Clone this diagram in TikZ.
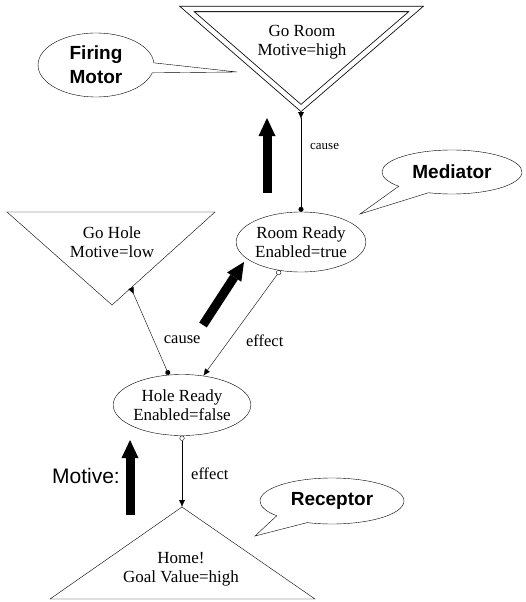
\documentclass[tikz,border=0pt]{standalone}
\usepackage{fontspec}
\setmainfont{Liberation Serif}
\setsansfont{Liberation Sans}
\usetikzlibrary{shapes.geometric,shapes.callouts,arrows.meta,positioning}

\tikzset{
  state/.style={draw, ellipse, inner sep=0pt, align=center, font=\fontsize{17}{19}\selectfont},
  bubble/.style={draw, ellipse callout, inner sep=0pt, align=center, callout pointer arc=30,
    font=\fontsize{19}{24}\selectfont\sffamily\bfseries},
  tri/.style={draw, line join=miter},
  tritext/.style={align=center, inner sep=0pt, font=\fontsize{17}{19}\selectfont},
  lbl/.style={inner sep=1pt, font=\fontsize{16.5}{19}\selectfont},
  causelink/.style={{Circle[length=5pt]}-{Latex[length=7pt,width=6pt,reversed]}},
  effectlink/.style={{Circle[open,length=5pt]}-{Latex[length=7pt,width=6pt]}},
  push/.style={line width=9pt, -{Triangle[length=18pt,width=17pt,line width=0pt]}},
}

\begin{document}
\begin{tikzpicture}[x=1pt, y=-1pt]
  \useasboundingbox (0,0) rectangle (525,602);

  % motors and goal
  \draw[tri, double, double distance=4.5pt, line width=0.8pt] (187,9) -- (416,9) -- (301,108) -- cycle;
  \coordinate (goroomtip) at (301,112);
  \node[tritext] (goroom) at (302,42) {Go Room\\Motive=high};

  \draw[tri] (7,212) -- (215,212) -- (112,305) -- cycle;
  \coordinate (goholein) at (131,288);
  \node[tritext] (gohole) at (112,242) {Go Hole\\Motive=low};

  \draw[tri] (50,599) -- (315,599) -- (182,507) -- cycle;
  \coordinate (hometip) at (182,507);
  \node[tritext] (home) at (181,569) {Home!\\Goal Value=high};

  % conditions
  \node[state, minimum width=125pt, minimum height=60pt] (rr) at (301,242) {Room Ready\\Enabled=true};
  \node[state, minimum width=132pt, minimum height=61pt] (hr) at (182,405) {Hole Ready\\Enabled=false};

  \draw[causelink] (rr.north) -- node[lbl, pos=0.65, right=8pt, font=\fontsize{13}{15}\selectfont] {cause} (goroomtip);
  \draw[causelink] (hr) -- node[lbl, pos=0.4, right=9pt] {cause} (goholein);
  \draw[effectlink] (rr) -- node[lbl, pos=0.667, right=16pt] {effect} (hr);
  \draw[effectlink] (hr.south) -- node[lbl, pos=0.53, right=8pt] {effect} (hometip);

  % callouts
  \coordinate (firingptr) at (237,72);
  \coordinate (mediatorptr) at (360,214);
  \coordinate (receptorptr) at (255,536);
  \node[bubble, minimum width=116pt, minimum height=64pt, callout pointer arc=18,
    callout absolute pointer={(firingptr)}] (firing) at (96,65) {Firing\\Motor};
  \node[bubble, minimum width=140pt, minimum height=44pt,
    callout absolute pointer={(mediatorptr)}] (mediator) at (452,172) {Mediator};
  \node[bubble, minimum width=144pt, minimum height=46pt,
    callout absolute pointer={(receptorptr)}] (receptor) at (332,501) {Receptor};

  % motive flow
  \coordinate (p1a) at (267,193); \coordinate (p1b) at (267,118);
  \coordinate (p2a) at (203,325); \coordinate (p2b) at (244,262);
  \coordinate (p3a) at (130,515); \coordinate (p3b) at (130,440);
  \draw[push] (p1a) -- (p1b);
  \draw[push] (p2a) -- (p2b);
  \draw[push] (p3a) -- (p3b);
  \node[anchor=east, inner sep=0pt, font=\fontsize{21}{24}\selectfont\sffamily] (motive) at (120,476) {Motive:};
\end{tikzpicture}
\end{document}
